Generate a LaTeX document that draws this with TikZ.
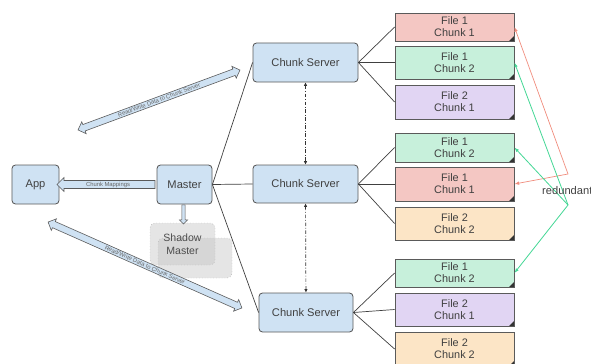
\documentclass[tikz,border=0pt]{standalone}
\usepackage{fontspec}
\setmainfont{Liberation Sans}
\usepackage{tikz}
\definecolor{serverblue}{RGB}{207,226,243}
\definecolor{edgegray}{RGB}{90,90,90}
\definecolor{chunkred}{RGB}{244,199,195}
\definecolor{chunkgreen}{RGB}{199,240,219}
\definecolor{chunkpurple}{RGB}{225,213,243}
\definecolor{chunkorange}{RGB}{252,229,198}
\definecolor{replred}{RGB}{240,140,125}
\definecolor{replgreen}{RGB}{70,215,150}
\usetikzlibrary{calc,positioning,shapes.arrows,arrows.meta}
\tikzset{
  srvbox/.style={draw=edgegray, line width=0.7pt, rounded corners=3pt, fill=serverblue,
    text=black!75, font=\fontsize{9.5}{10}\selectfont, align=center, inner sep=0pt},
  chunkbox/.style={draw=edgegray, line width=0.7pt, text=black!75,
    font=\fontsize{9.3}{10.3}\selectfont, align=center, inner sep=0pt, minimum width=3.57cm,
    path picture={\fill[black!80] (path picture bounding box.south east) -- ++(-5,0) -- ++(5,-5) -- cycle;}},
  blockarrow/.style={draw=edgegray, line width=0.5pt, fill=serverblue, text=black!60,
    font=\fontsize{5}{5.5}\selectfont, inner sep=0.8pt},
  shadowbox/.style={draw=gray!80, dotted, rounded corners=4pt, fill=gray!50, fill opacity=0.4,
    text opacity=1},
  link/.style={draw=black!75, line width=0.6pt}
}

\begin{document}
\begin{tikzpicture}[x=0.03cm, y=-0.03cm]
\useasboundingbox (0,0) rectangle (591,363);

% clients and master
\node[srvbox, minimum width=1.41cm, minimum height=1.17cm] (app) at (35.5,184.5) {App};
\node[srvbox, minimum width=1.65cm, minimum height=1.17cm] (master) at (184.5,184.5) {Master};

% shadow master, two stacked copies
\node[shadowbox, minimum width=2.22cm, minimum height=1.2cm] (shadowback) at (195,258) {};
\node[shadowbox, minimum width=1.95cm, minimum height=1.26cm, font=\fontsize{9}{11}\selectfont,
  text=black!70, align=center] (shadow) at (182.5,244) {Shadow\\Master};

% chunk servers
\node[srvbox, minimum width=3.15cm, minimum height=1.17cm] (cs1) at (305.5,62.5) {Chunk Server};
\node[srvbox, minimum width=3.15cm, minimum height=1.14cm] (cs2) at (305.5,184) {Chunk Server};
\node[srvbox, minimum width=2.82cm, minimum height=1.17cm] (cs3) at (306,312.5) {Chunk Server};

% chunks held by each server
\foreach \cname/\ypos/\boxh/\clr/\fno/\cno in {
    f1/27/0.84/chunkred/1/1,
    f2/62.5/0.99/chunkgreen/1/2,
    f3/102/1.02/chunkpurple/2/1,
    f4/147.5/0.87/chunkgreen/1/2,
    f5/184/1.02/chunkred/1/1,
    f6/223.5/0.99/chunkorange/2/2,
    f7/273/0.84/chunkgreen/1/2,
    f8/309.5/0.99/chunkpurple/2/1,
    f9/349/1.02/chunkorange/2/2}
    \node[chunkbox, fill=\clr, minimum height=\boxh cm] (\cname) at (454.5,\ypos) {File \fno\\Chunk \cno};

\foreach \srv/\a/\b/\c in {cs1/f1/f2/f3, cs2/f4/f5/f6, cs3/f7/f8/f9}{
    \draw[link] (\srv.east) -- (\a.west);
    \draw[link] (\srv.east) -- (\b.west);
    \draw[link] (\srv.east) -- (\c.west);
}

\draw[link] (master.east) -- (cs1.west);
\draw[link] (master.east) -- (cs2.west);
\draw[link] (master.east) -- (cs3.west);

\draw[black!80, line width=0.6pt, dash pattern=on 3pt off 1.5pt on 0.8pt off 1.5pt,
  {Latex[length=3pt,width=3pt]}-{Latex[length=3pt,width=3pt]}] (cs1) -- (cs2);
\draw[black!80, line width=0.6pt, dash pattern=on 3pt off 1.5pt on 0.8pt off 1.5pt,
  {Latex[length=3pt,width=3pt]}-{Latex[length=3pt,width=3pt]}] (cs2) -- (cs3);

% block arrows
\node[blockarrow, single arrow, shape border rotate=180, single arrow head extend=2.5pt,
  minimum height=2.94cm, minimum width=0.42cm] (mapping) at ($(app.east)!0.5!(master.west)$) {Chunk Mappings};
\node[blockarrow, single arrow, shape border rotate=270, single arrow head extend=2pt,
  minimum height=0.57cm, minimum width=0.24cm, inner sep=1.2pt] (tosh) at ($(master.south)!0.5!(shadow.north)$) {};
\node[blockarrow, double arrow, double arrow head extend=2.5pt, rotate=20.3,
  minimum height=5.18cm, minimum width=0.38cm] (upper) at (159,100) {Read/Write Data to Chunk Server};
\node[blockarrow, double arrow, double arrow head extend=2.5pt, rotate=-23.9,
  minimum height=6.36cm, minimum width=0.38cm] (lower) at (145,265) {Read/Write Data to Chunk Server};

% replicas of the same chunk
\coordinate (redtip) at (568,174);
\coordinate (greentip) at (568,205);
\draw[replred, line width=0.6pt, {Latex[length=4pt,width=3pt]}-{Latex[length=4pt,width=3pt]}]
  (f1.east) -- (redtip) -- (f5.east);
\foreach \cname in {f2,f4,f7}{
    \draw[replgreen, line width=0.7pt, -{Latex[length=4pt,width=3pt]}] (greentip) -- (\cname.east);
}
\node[anchor=west, font=\fontsize{9.5}{10}\selectfont, text=black!75, inner sep=0pt] (redund) at (542,191) {redundant};

\end{tikzpicture}
\end{document}
